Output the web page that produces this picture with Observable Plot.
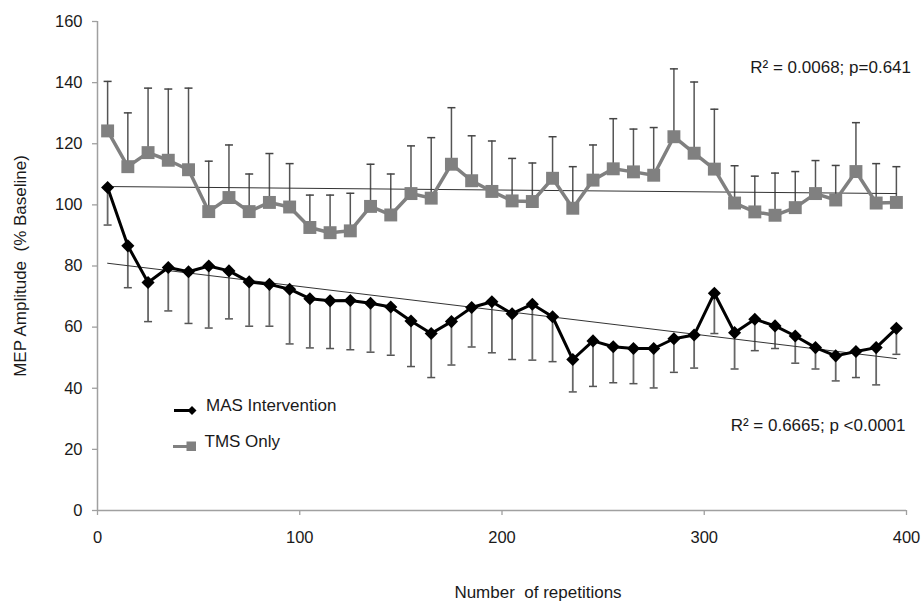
<!DOCTYPE html>
<html><head><meta charset="utf-8">
<script src="https://cdn.jsdelivr.net/npm/d3@7"></script>
<script src="https://cdn.jsdelivr.net/npm/@observablehq/plot@0.6"></script>
<style>
body{margin:0;background:#fff;}
svg text{white-space:pre;}
</style>
</head><body><div id="chart"></div>
<script>
// Repetition bins (x)
const reps = [5,15,25,35,45,55,65,75,85,95,105,115,125,135,145,155,165,175,185,195,205,215,225,235,245,255,265,275,285,295,305,315,325,335,345,355,365,375,385,395];
// TMS Only: mean and upper error bound (% baseline)
const tmsMean = [124.2,112.5,117.1,114.6,111.5,97.8,102.4,97.8,100.8,99.3,92.6,90.9,91.5,99.5,96.7,103.7,102.2,113.3,107.9,104.4,101.3,101.1,108.7,98.9,108.1,111.8,110.8,109.7,122.3,116.9,111.7,100.6,97.7,96.6,99.1,103.7,101.6,110.9,100.6,100.8];
const tmsUpper = [140.4,130.1,138.2,137.9,138.2,114.3,119.6,110.1,116.8,113.5,103.2,103.2,103.8,113.3,110.1,119.3,122.0,131.8,122.6,120.9,115.2,113.7,122.3,112.5,119.6,128.2,124.8,125.3,144.5,140.2,131.3,112.8,109.4,110.4,110.9,114.5,112.9,126.9,113.5,112.5];
// MAS Intervention: mean and lower error bound (% baseline)
const masMean = [105.7,86.6,74.6,79.5,78.1,80.0,78.4,74.8,74.0,72.4,69.3,68.6,68.7,67.8,66.6,62.0,57.9,61.8,66.4,68.3,64.4,67.5,63.4,49.4,55.5,53.6,53.0,53.0,56.2,57.4,71.1,58.2,62.6,60.4,57.1,53.3,50.6,52.0,53.3,59.6];
const masLower = [93.4,72.9,61.8,65.3,61.2,59.7,62.7,60.3,60.3,54.5,53.2,53.0,52.6,51.8,50.8,47.1,43.5,47.6,53.5,51.6,49.4,49.2,48.7,38.8,40.6,41.8,41.5,40.1,45.2,46.6,57.9,46.3,52.3,53.0,48.2,46.3,42.4,43.5,41.1,51.1];
// Linear trend line end points
const trendX = [5, 395];
const tmsTrend = [106.0, 103.7];
const masTrend = [80.9, 49.7];
// Ticks and labels
const xTicks = [0,100,200,300,400];
const yTicks = [0,20,40,60,80,100,120,140,160];
const xTitle = "Number  of repetitions";
const yTitle = "MEP Amplitude  (% Baseline)";
const tmsStat = "R² = 0.0068; p=0.641";
const masStat = "R² = 0.6665; p <0.0001";
const seriesNames = ["MAS Intervention", "TMS Only"];

const tms = reps.map((x,i)=>({x, mean: tmsMean[i], hi: tmsUpper[i]}));
const mas = reps.map((x,i)=>({x, mean: masMean[i], lo: masLower[i]}));
const trend = trendX.map((x,i)=>({x, tms: tmsTrend[i], mas: masTrend[i]}));

const cap = { draw(ctx){ ctx.moveTo(-4,0); ctx.lineTo(4,0); } };
const FONT = "'Liberation Sans', Arial, sans-serif";

const plot = Plot.plot({
  width: 922, height: 601,
  marginLeft: 97, marginRight: 16, marginTop: 21, marginBottom: 91,
  style: {fontFamily: FONT, fontSize: "16.5px", color: "#1a1a1a", background: "#fff"},
  x: {domain: [0,400]},
  y: {domain: [0,160]},
  marks: [
    Plot.axisY({ticks: yTicks, tickSize: 5, tickPadding: 10, label: null, stroke: "#a0a0a0", fill: "#1a1a1a", strokeWidth: 1.3}),
    Plot.axisX({ticks: xTicks, tickSize: 5, tickPadding: 16, label: null, stroke: "#a0a0a0", fill: "#1a1a1a", strokeWidth: 1.3}),
    Plot.ruleX([0], {stroke: "#a0a0a0", strokeWidth: 1.5}),
    Plot.ruleY([0], {stroke: "#a0a0a0", strokeWidth: 1.5}),
    // TMS error bars (upward)
    Plot.ruleX(tms, {x: "x", y1: "mean", y2: "hi", stroke: "#555", strokeWidth: 1.5}),
    Plot.dot(tms, {x: "x", y: "hi", symbol: cap, stroke: "#444", strokeWidth: 1.5}),
    // MAS error bars (downward)
    Plot.ruleX(mas, {x: "x", y1: "lo", y2: "mean", stroke: "#666", strokeWidth: 1.8}),
    Plot.dot(mas, {x: "x", y: "lo", symbol: cap, stroke: "#555", strokeWidth: 1.5}),
    // trend lines
    Plot.line(trend, {x: "x", y: "tms", stroke: "#333", strokeWidth: 1}),
    Plot.line(trend, {x: "x", y: "mas", stroke: "#333", strokeWidth: 1}),
    // series
    Plot.line(tms, {x: "x", y: "mean", stroke: "#808080", strokeWidth: 3.5}),
    Plot.dot(tms, {x: "x", y: "mean", symbol: "square", r: 7.3, fill: "#808080", stroke: "none"}),
    Plot.line(mas, {x: "x", y: "mean", stroke: "#000", strokeWidth: 3}),
    Plot.dot(mas, {x: "x", y: "mean", symbol: "diamond2", r: 5.9, fill: "#000", stroke: "none"}),
    // annotations
    Plot.text([tmsStat], {frameAnchor: "top-right", textAnchor: "end", lineAnchor: "middle", dx: 4.5, dy: 46, fill: "#1a1a1a", fontSize: 17}),
    Plot.text([masStat], {frameAnchor: "top-right", textAnchor: "end", lineAnchor: "middle", dx: -1, dy: 404, fill: "#1a1a1a", fontSize: 17}),
    Plot.text([xTitle], {frameAnchor: "bottom", lineAnchor: "middle", dx: 36, dy: 82.5, fill: "#1a1a1a", fontSize: 17}),
    Plot.text([yTitle], {frameAnchor: "left", textAnchor: "middle", lineAnchor: "middle", rotate: -90, dx: -77, fill: "#1a1a1a", fontSize: 17})
  ]
});

// Legend (inside plot area)
const svg = d3.select(plot);
const lg = svg.append("g").attr("font-family", FONT).attr("font-size", 17).attr("fill", "#1a1a1a").attr("text-anchor", "start");
lg.append("line").attr("x1", 174).attr("x2", 192).attr("y1", 410.5).attr("y2", 410.5).attr("stroke", "#000").attr("stroke-width", 3);
lg.append("path").attr("d", "M192,406L196.5,410.5L192,415L187.5,410.5Z").attr("fill", "#000");
lg.append("text").attr("x", 206).attr("y", 411).text(seriesNames[0]);
lg.append("line").attr("x1", 173).attr("x2", 188).attr("y1", 446.5).attr("y2", 446.5).attr("stroke", "#808080").attr("stroke-width", 3);
lg.append("rect").attr("x", 186.5).attr("y", 441.5).attr("width", 9.5).attr("height", 9.5).attr("fill", "#808080");
lg.append("text").attr("x", 204.5).attr("y", 447).text(seriesNames[1]);

document.getElementById("chart").appendChild(plot);
</script>
</body></html>
